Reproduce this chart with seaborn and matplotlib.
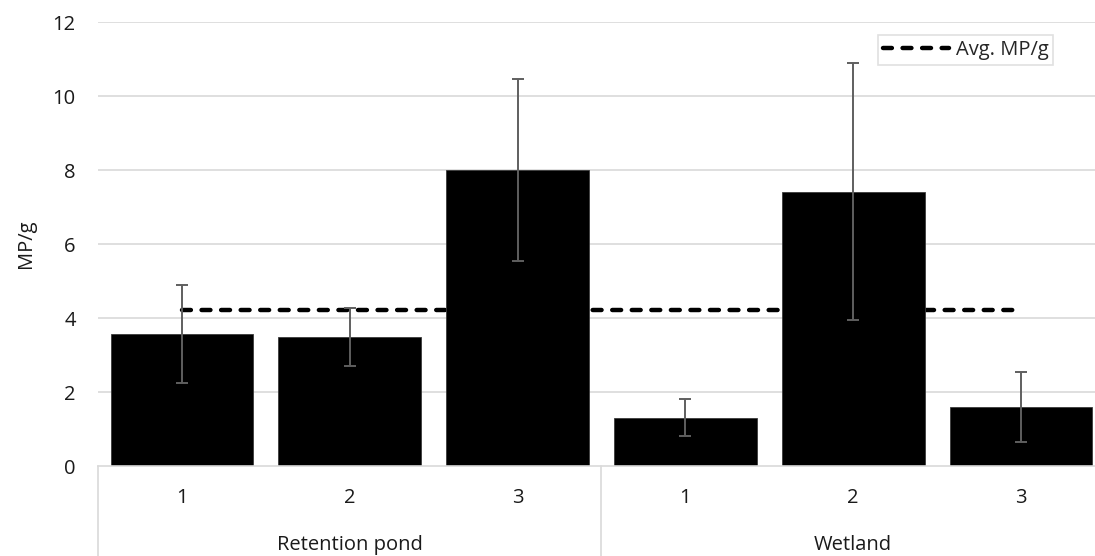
import numpy as np
import pandas as pd
import matplotlib
matplotlib.use("Agg")
import matplotlib.pyplot as plt
import matplotlib.transforms as mtransforms
from matplotlib.lines import Line2D
import seaborn as sns

# ---- data ----
groups = ["Retention pond", "Wetland"]
samples = ["1", "2", "3"]
mp_per_g = [3.56, 3.48, 8.00, 1.31, 7.41, 1.59]
mp_err = [1.32, 0.78, 2.46, 0.49, 3.47, 0.95]
avg_mp = 4.21
y_ticks = [0, 2, 4, 6, 8, 10, 12]

sns.set_theme(style="white")
plt.rcParams["font.family"] = ["Open Sans", "DejaVu Sans"]
FS = 14.5
TXT = "#1a1a1a"

labels = [f"{g}-{s}" for g in groups for s in samples]
df = pd.DataFrame({"cat": labels, "value": mp_per_g, "err": mp_err,
                   "avg": [avg_mp] * len(labels)})
df["pos"] = np.arange(len(df))

fig = plt.figure(figsize=(10.95, 5.56), dpi=100)
ax = fig.add_axes([98 / 1095, 90 / 556, 1007 / 1095, 444 / 556])

grid_c = "#d9d9d9"
for t in y_ticks[1:]:
    ax.axhline(t, color=grid_c, lw=1.2, zorder=0)

# average line (behind bars)
sns.lineplot(data=df, x="pos", y="avg", ax=ax, color="black", lw=3.2,
             zorder=1, legend=False)
for ln in ax.lines[-1:]:
    ln.set_dashes((2.0, 2.4))
    ln.set_dash_capstyle("round")

sns.barplot(data=df, x="pos", y="value", ax=ax, color="black", width=0.85,
            saturation=1, edgecolor="#3a3a3a", linewidth=0.6, zorder=2,
            native_scale=True)

ax.errorbar(df["pos"], df["value"], yerr=df["err"], fmt="none",
            ecolor="#5f5f5f", elinewidth=1.4, capsize=4.3, capthick=1.4,
            zorder=3)

ax.set_xlim(-0.5, len(df) - 0.5)
ax.set_ylim(0, 12)
ax.set_yticks(y_ticks)
ax.set_yticklabels([str(t) for t in y_ticks], fontsize=FS, color=TXT)
ax.tick_params(axis="y", length=0, pad=16)
ax.set_xticks(df["pos"])
ax.set_xticklabels(samples * len(groups), fontsize=FS, color=TXT)
ax.tick_params(axis="x", length=0, pad=16)
ax.set_xlabel("")
ax.set_ylabel("MP/g", fontsize=FS, color=TXT, labelpad=12)

for s in ["top", "right", "left"]:
    ax.spines[s].set_visible(False)
ax.spines["bottom"].set_color(grid_c)
ax.spines["bottom"].set_linewidth(1.2)

# group separators and labels
trans = mtransforms.blended_transform_factory(ax.transData, ax.transAxes)
n = len(samples)
bounds = [i * n - 0.5 for i in range(len(groups) + 1)]
for b in bounds:
    ax.add_line(Line2D([b, b], [0, -0.25], transform=trans, color=grid_c,
                       lw=1.2, clip_on=False))
for i, g in enumerate(groups):
    ax.text(i * n + (n - 1) / 2, -0.178, g, transform=trans, ha="center",
            va="center", fontsize=FS, color=TXT)

handle = Line2D([], [], color="black", lw=3.2, dashes=(2.0, 2.4),
                dash_capstyle="round")
leg = ax.legend([handle], ["Avg. MP/g"], loc="upper left",
                bbox_to_anchor=(878 / 1095, 1 - 35 / 556),
                bbox_transform=fig.transFigure, fontsize=FS, frameon=True,
                fancybox=False, handlelength=3.3, borderpad=0.25,
                handletextpad=0.3, borderaxespad=0)
leg.get_frame().set_edgecolor(grid_c)
leg.get_frame().set_linewidth(1.2)

fig.savefig("out.png", dpi=100, facecolor="white")
